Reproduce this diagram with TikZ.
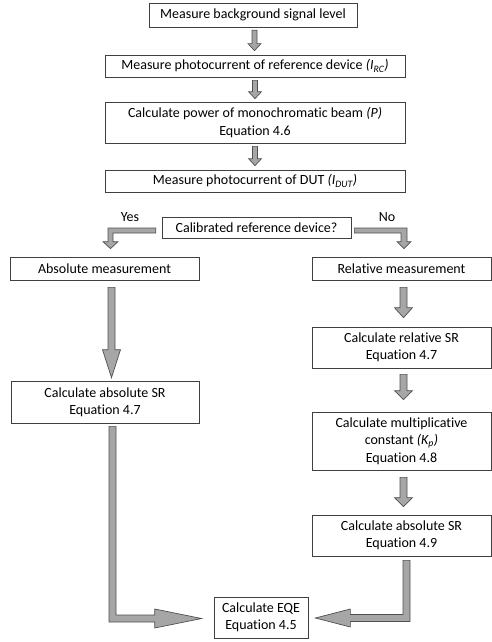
\documentclass[tikz,border=0pt]{standalone}
\usepackage{fontspec}
\setmainfont[Ligatures={NoCommon}]{Carlito}
\usetikzlibrary{calc}
\definecolor{boxline}{HTML}{404040}
\definecolor{arrfill}{HTML}{A6A6A6}
\definecolor{arrline}{HTML}{505050}
\tikzset{
  box/.style={draw=boxline, line width=0.7pt, fill=white, align=center, inner sep=0pt,
    font=\fontsize{14}{17.3}\selectfont},
  lbl/.style={inner sep=0pt, font=\fontsize{14}{17.3}\selectfont},
  barrow/.style={fill=arrfill, draw=arrline, line width=0.7pt, line join=miter}
}
% vertical block arrow: #1 from, #2 to, #3 x offset, #4 shaft half, #5 head half, #6 head length, #7 top gap, #8 bottom gap
\newcommand\blkdown[8]{%
  \filldraw[barrow] let \p1=(#1.south), \p2=(#2.north), \p3=($(#1.south)+(#3,0)$) in
  (\x3-#4,\y1-#7) -- (\x3+#4,\y1-#7) -- (\x3+#4,\y2+#8+#6) -- (\x3+#5,\y2+#8+#6) --
  (\x3,\y2+#8) -- (\x3-#5,\y2+#8+#6) -- (\x3-#4,\y2+#8+#6) -- cycle;}
\begin{document}
\begin{tikzpicture}[x=1pt,y=-1pt]
\useasboundingbox (0,0) rectangle (492,642);
\node[box, minimum width=208pt, minimum height=24pt] (b1) at (253,15) {Measure background signal level};
\node[box, minimum width=300pt, minimum height=22pt] (b2) at (255,66) {Measure photocurrent of reference device \textit{(I\textsubscript{RC})}};
\node[box, minimum width=300pt, minimum height=41pt] (b3) at (255,122.5) {Calculate power of monochromatic beam \textit{(P)}\\Equation 4.6};
\node[box, minimum width=300pt, minimum height=22pt] (b4) at (255,181) {Measure photocurrent of DUT \textit{(I\textsubscript{DUT})}};
\node[box, minimum width=189pt, minimum height=21pt] (dec) at (256.5,227.5) {Calibrated reference device?};
\node[box, minimum width=189pt, minimum height=23pt] (abs) at (104.5,268.5) {Absolute measurement};
\node[box, minimum width=179pt, minimum height=23pt] (rel) at (401.5,268.5) {Relative measurement};
\node[box, minimum width=179pt, minimum height=41pt] (relsr) at (401.5,347.5) {Calculate relative SR\\Equation 4.7};
\node[box, minimum width=188pt, minimum height=42pt] (abssr) at (105,402) {Calculate absolute SR\\Equation 4.7};
\node[box, minimum width=179pt, minimum height=58pt] (mult) at (401.5,441) {Calculate multiplicative\\constant \textit{(K\textsubscript{p})}\\Equation 4.8};
\node[box, minimum width=179pt, minimum height=41pt] (abs49) at (401.5,535.5) {Calculate absolute SR\\Equation 4.9};
\node[box, minimum width=94pt, minimum height=41pt] (eqe) at (261,617.5) {Calculate EQE\\Equation 4.5};
\node[lbl] (yes) at (130,217) {Yes};
\node[lbl] (no) at (387,217) {No};
% straight arrows
\blkdown{b1}{b2}{1.5}{2.5pt}{6.5pt}{7pt}{3pt}{4pt}
\blkdown{b2}{b3}{0}{2.5pt}{6.5pt}{7pt}{3pt}{3pt}
\blkdown{b3}{b4}{0}{2.5pt}{6.5pt}{7pt}{3pt}{4pt}
\blkdown{abs}{abssr}{7}{3.5pt}{9pt}{28pt}{7pt}{3pt}
\blkdown{rel}{relsr}{2}{3.5pt}{9pt}{10pt}{7pt}{9pt}
\blkdown{relsr}{mult}{2}{3.5pt}{9pt}{9pt}{6pt}{12pt}
\blkdown{mult}{abs49}{2}{3.5pt}{9pt}{9pt}{7pt}{8pt}
% Yes elbow
\filldraw[barrow] let \p1=(dec.west), \p2=(abs.north), \p3=($(abs.north)+(6,0)$) in
  (\x1-6pt,\y1-0.5pt) -- (\x3-2.5pt,\y1-0.5pt) -- (\x3-2.5pt,\y2+15pt) -- (\x3-7.5pt,\y2+15pt) --
  (\x3,\y2+8pt) -- (\x3+7.5pt,\y2+15pt) -- (\x3+2.5pt,\y2+15pt) -- (\x3+2.5pt,\y1-5.5pt) --
  (\x1-6pt,\y1-5.5pt) -- cycle;
% No elbow
\filldraw[barrow] let \p1=(dec.east), \p2=(rel.north), \p3=($(rel.north)+(2.5,0)$) in
  (\x1+3pt,\y1-0.5pt) -- (\x3+3pt,\y1-0.5pt) -- (\x3+3pt,\y2+15pt) -- (\x3+7pt,\y2+15pt) --
  (\x3,\y2+8pt) -- (\x3-7pt,\y2+15pt) -- (\x3-3pt,\y2+15pt) -- (\x3-3pt,\y1-5.5pt) --
  (\x1+3pt,\y1-5.5pt) -- cycle;
% bottom left elbow
\filldraw[barrow] let \p1=(abssr.south), \p2=(eqe.west), \p3=($(abssr.south)+(7.5,0)$) in
  (\x3-3.5pt,\y1-3pt) -- (\x3+3.5pt,\y1-3pt) -- (\x3+3.5pt,\y2+2.5pt) -- (\x2-59pt,\y2+2.5pt) --
  (\x2-59pt,\y2+8.5pt) -- (\x2-12pt,\y2-1pt) -- (\x2-59pt,\y2-10.5pt) -- (\x2-59pt,\y2-4.5pt) --
  (\x3-3.5pt,\y2-4.5pt) -- cycle;
% bottom right elbow
\filldraw[barrow] let \p1=(abs49.south), \p2=(eqe.east), \p3=($(abs49.south)+(5,0)$) in
  (\x3+3.5pt,\y1-4pt) -- (\x3-3.5pt,\y1-4pt) -- (\x3-3.5pt,\y2+3pt) -- (\x2+42pt,\y2+3pt) --
  (\x2+42pt,\y2+8.5pt) -- (\x2+7pt,\y2-0.5pt) -- (\x2+42pt,\y2-9.5pt) -- (\x2+42pt,\y2-4pt) --
  (\x3+3.5pt,\y2-4pt) -- cycle;
\end{tikzpicture}
\end{document}
